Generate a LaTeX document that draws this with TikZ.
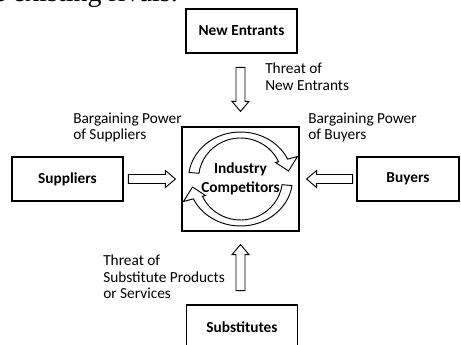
\documentclass[tikz,border=0pt]{standalone}
\usepackage{fontspec}
\setmainfont{Carlito}
\newfontfamily\bookserif{Liberation Serif}
\usetikzlibrary{calc}

% hollow block arrow: #1 tip, #2 direction, #3 length
\newcommand\BlockArrow[3]{%
  \begin{scope}[shift={#1},rotate=#2]
  \draw[arrowline] (0,0) -- (-10,-8.5) -- (-10,-4.5) -- (-#3,-4.5)
    -- (-#3,4.5) -- (-10,4.5) -- (-10,8.5) -- cycle;
  \end{scope}
}
% curved arrow of the rivalry circle, drawn around the origin
\newcommand\RivalArrow{%
  \draw[arrowline] (188:52 and 47) arc[start angle=188,end angle=335,x radius=52,y radius=47]
    -- (57,-22.5) -- (48,-8) -- (35,-16.5) -- (335:42 and 41)
    arc[start angle=335,end angle=188,x radius=42,y radius=41] -- cycle;
}

\tikzset{
  box/.style={draw, line width=0.9pt, minimum width=83.25pt, minimum height=33pt,
    font=\bfseries\fontsize{11.5}{14}\selectfont},
  force/.style={align=left, inner sep=0pt, anchor=north west,
    font=\fontsize{11.5}{12.5}\selectfont},
  arrowline/.style={line width=0.7pt, line join=miter},
}

\begin{document}
\begin{tikzpicture}[x=0.75pt,y=-0.75pt]
\useasboundingbox (0,0) rectangle (461,345);
\clip (0,0) rectangle (461,345);

% line of the page above the figure
\node[anchor=base east, inner sep=0pt, font=\bookserif\fontsize{21}{25}\selectfont]
  (rivals) at (178,1.5) {the existing rivals.};

% the five forces
\node[box] (entrants) at (241.5,31) {New Entrants};
\node[box] (suppliers) at (67.5,179) {Suppliers};
\node[box, minimum width=76.5pt] (buyers) at (408,179) {Buyers};
\node[box] (substitutes) at (242,327) {Substitutes};
\node[draw, line width=0.9pt, minimum width=87.75pt, minimum height=78pt, align=center,
  font=\bfseries\fontsize{11.5}{14}\selectfont] (comp) at (240.5,179) {Industry\\Competitors};

% rivalry among competitors
\begin{scope}[shift={(comp.center)}]
\RivalArrow
\begin{scope}[rotate=180]
\RivalArrow
\end{scope}
\end{scope}

% pressure on the industry
\BlockArrow{($(comp.north)+(0,-15)$)}{-90}{44}
\BlockArrow{($(comp.south)+(0,13)$)}{90}{46}
\BlockArrow{($(comp.west)+(-6,0)$)}{0}{47}
\BlockArrow{($(comp.east)+(7,0)$)}{180}{46}

% labels
\node[force] (lblEntrants) at (265,63) {Threat of\\New Entrants};
\node[force] (lblSuppliers) at (73,112.5) {Bargaining Power\\of Suppliers};
\node[force] (lblBuyers) at (308,112.5) {Bargaining Power\\of Buyers};
\node[force] (lblSubstitutes) at (103,254.5) {Threat of\\Substitute Products\\or Services};
\end{tikzpicture}
\end{document}
